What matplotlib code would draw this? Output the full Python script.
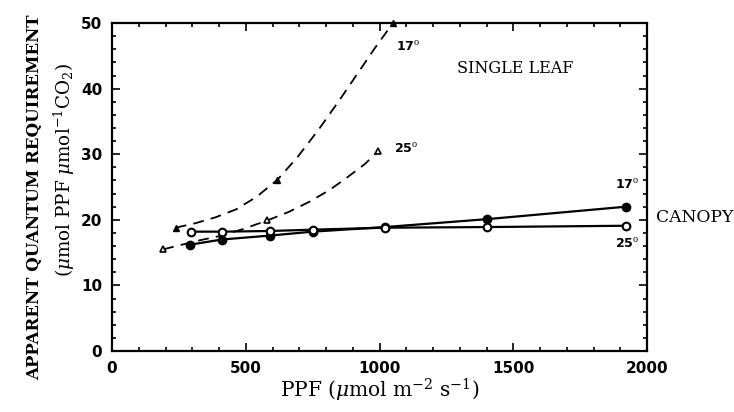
import numpy as np
import matplotlib
matplotlib.use("Agg")
import matplotlib.pyplot as plt
from matplotlib.ticker import MultipleLocator

# canopy measurements (circles, solid lines)
canopy_ppf_17 = [290, 410, 590, 750, 1020, 1400, 1920]
canopy_qr_17 = [16.2, 17.0, 17.6, 18.2, 18.9, 20.1, 22.0]
canopy_ppf_25 = [295, 410, 590, 750, 1020, 1400, 1920]
canopy_qr_25 = [18.2, 18.2, 18.3, 18.5, 18.8, 18.9, 19.1]

# single leaf measurements (triangles)
leaf_ppf_17 = [238, 618, 1050]
leaf_qr_17 = [18.8, 26.1, 50.0]
leaf_ppf_25 = [191, 580, 995]
leaf_qr_25 = [15.5, 19.9, 30.5]

# dashed curves
curve_ppf_17 = [238, 313, 388, 464, 540, 618, 694, 773, 851, 916, 981, 1050]
curve_qr_17 = [18.8, 19.5, 20.4, 21.6, 23.5, 26.1, 29.6, 33.8, 38.3, 42.2, 46.1, 50.0]
curve_ppf_25 = [191, 250, 330, 410, 490, 580, 660, 740, 815, 880, 945, 995]
curve_qr_25 = [15.5, 16.1, 16.9, 17.6, 18.6, 19.9, 21.2, 22.8, 24.6, 26.5, 28.5, 30.5]

plt.rcParams["mathtext.fontset"] = "dejavuserif"

fig = plt.figure(figsize=(7.34, 4.12), dpi=100)
ax = fig.add_axes([0.1526, 0.148, 0.729, 0.796])

dash = (0, (6, 4))
ax.plot(curve_ppf_17, curve_qr_17, color="black", lw=1.3, linestyle=dash, clip_on=False)
ax.plot(curve_ppf_25, curve_qr_25, color="black", lw=1.3, linestyle=dash, clip_on=False)
ax.plot(leaf_ppf_17, leaf_qr_17, "^", color="black", ms=5, clip_on=False)
ax.plot(leaf_ppf_25, leaf_qr_25, "^", color="black", mfc="white", mew=1.2, ms=5, clip_on=False)

ax.plot(canopy_ppf_17, canopy_qr_17, "-o", color="black", lw=1.6, ms=6, clip_on=False)
ax.plot(canopy_ppf_25, canopy_qr_25, "-o", color="black", mfc="white", mew=1.5, lw=1.6, ms=5.5, clip_on=False)

ax.set_xlim(0, 2000)
ax.set_ylim(0, 50)
ax.xaxis.set_major_locator(MultipleLocator(500))
ax.xaxis.set_minor_locator(MultipleLocator(100))
ax.yaxis.set_major_locator(MultipleLocator(10))
ax.yaxis.set_minor_locator(MultipleLocator(2))
ax.tick_params(which="both", direction="in", top=True, right=True, width=1.2)
ax.tick_params(which="major", length=6, pad=7, labelsize=11)
ax.tick_params(which="minor", length=3)
for lab in ax.get_xticklabels() + ax.get_yticklabels():
    lab.set_fontweight("bold")
for s in ax.spines.values():
    s.set_linewidth(1.6)

ax.set_xlabel(r"PPF ($\mu$mol m$^{-2}$ s$^{-1}$)", family="DejaVu Serif", fontsize=14.5, labelpad=1)

fig.text(0.047, 0.522, "APPARENT QUANTUM REQUIREMENT", rotation=90, ha="center", va="center",
         family="DejaVu Serif", fontweight="bold", fontsize=12)
fig.text(0.088, 0.587, r"($\mu$mol PPF $\mu$mol$^{-1}$CO$_2$)", rotation=90, ha="center", va="center",
         family="DejaVu Serif", fontsize=13.2)

tfont = dict(family="DejaVu Sans", fontweight="bold", fontsize=9)
ax.text(1060, 46.3, r"17$^{\rm o}$", ha="left", va="center", **tfont)
ax.text(1055, 30.8, r"25$^{\rm o}$", ha="left", va="center", **tfont)
ax.text(1925, 25.3, r"17$^{\rm o}$", ha="center", va="center", **tfont)
ax.text(1925, 16.4, r"25$^{\rm o}$", ha="center", va="center", **tfont)
ax.text(1290, 43, "SINGLE LEAF", ha="left", va="center", family="DejaVu Serif", fontsize=11.5)
ax.text(2035, 20.4, "CANOPY", ha="left", va="center", family="DejaVu Serif", fontsize=12.3, clip_on=False)

fig.savefig("out.png", dpi=100)
